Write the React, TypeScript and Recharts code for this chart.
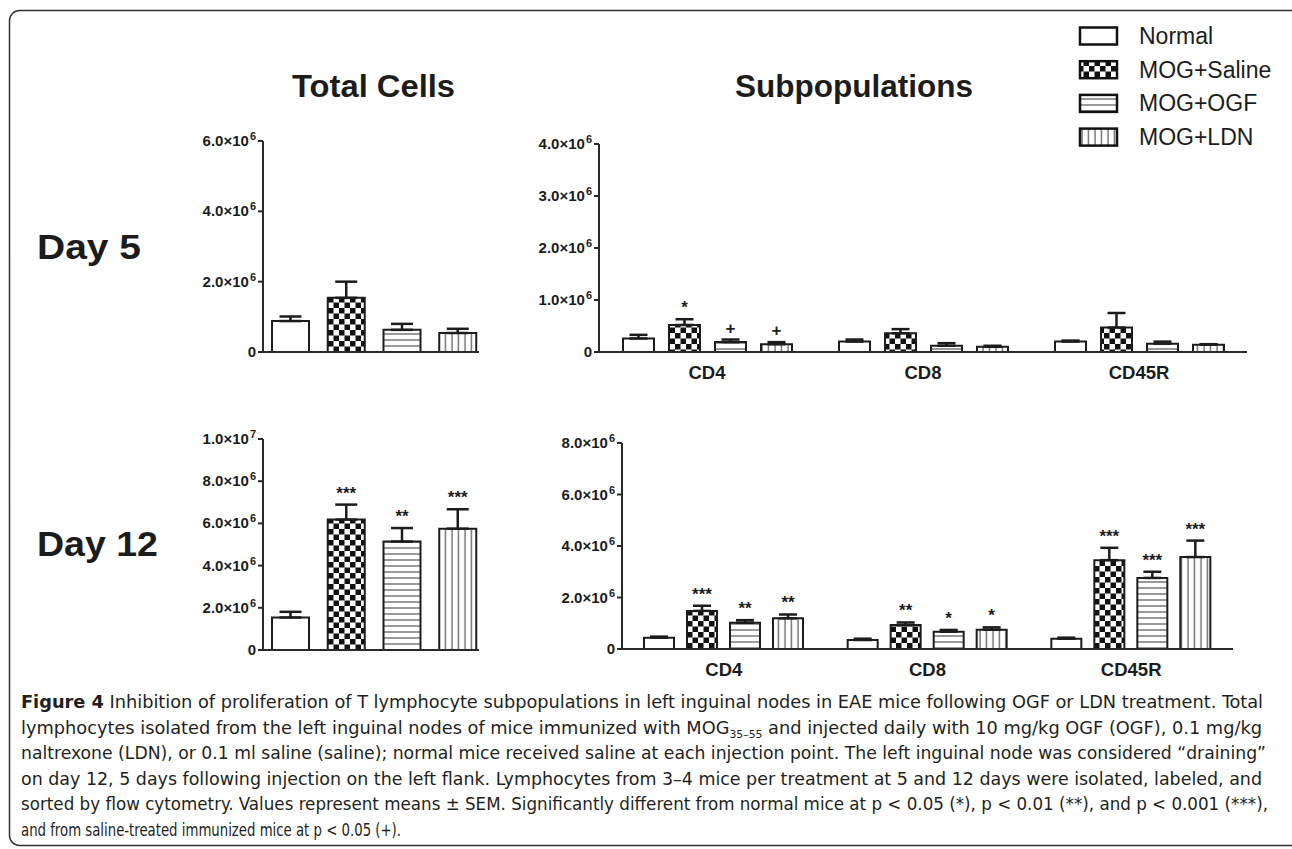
import React from 'react';
import { BarChart, Bar, XAxis, YAxis, Cell, ErrorBar, LabelList } from 'recharts';

// treatment groups (legend order) and lymphocyte subsets
const groups = ['Normal', 'MOG+Saline', 'MOG+OGF', 'MOG+LDN'];
const subsets = ['CD4', 'CD8', 'CD45R'];

// Total cells, one value per group
const day5Total = [0.88e6, 1.54e6, 0.63e6, 0.54e6];
const day5TotalSem = [0.13e6, 0.46e6, 0.17e6, 0.12e6];
const day5TotalSig = ['', '', '', ''];

const day12Total = [1.54e6, 6.18e6, 5.14e6, 5.75e6];
const day12TotalSem = [0.27e6, 0.71e6, 0.64e6, 0.92e6];
const day12TotalSig = ['', '***', '**', '***'];

// Subpopulations, one array per group, ordered CD4, CD8, CD45R
const day5Normal = [0.26e6, 0.2e6, 0.2e6];
const day5NormalSem = [0.07e6, 0.04e6, 0.02e6];
const day5Saline = [0.52e6, 0.36e6, 0.47e6];
const day5SalineSem = [0.11e6, 0.08e6, 0.28e6];
const day5Ogf = [0.19e6, 0.12e6, 0.16e6];
const day5OgfSem = [0.05e6, 0.05e6, 0.04e6];
const day5Ldn = [0.15e6, 0.1e6, 0.14e6];
const day5LdnSem = [0.04e6, 0.02e6, 0.01e6];
const day5Sig = [['', '', ''], ['*', '', ''], ['+', '', ''], ['+', '', '']];

const day12Normal = [0.44e6, 0.35e6, 0.4e6];
const day12NormalSem = [0.04e6, 0.05e6, 0.04e6];
const day12Saline = [1.48e6, 0.93e6, 3.45e6];
const day12SalineSem = [0.2e6, 0.1e6, 0.48e6];
const day12Ogf = [1.02e6, 0.67e6, 2.76e6];
const day12OgfSem = [0.1e6, 0.07e6, 0.24e6];
const day12Ldn = [1.19e6, 0.75e6, 3.57e6];
const day12LdnSem = [0.15e6, 0.09e6, 0.64e6];
const day12Sig = [['', '', ''], ['***', '**', '***'], ['**', '*', '***'], ['**', '*', '***']];

// y ticks
const day5TotalTicks = [0, 2e6, 4e6, 6e6];
const day12TotalTicks = [0, 2e6, 4e6, 6e6, 8e6, 1e7];
const day5SubTicks = [0, 1e6, 2e6, 3e6, 4e6];
const day12SubTicks = [0, 2e6, 4e6, 6e6, 8e6];

const fills = ['#ffffff', 'url(#pat-chk)', 'url(#pat-hz)', 'url(#pat-vt)'];
const INK = '#1c1c1c';
const FONT = '"Liberation Sans", Arial, Helvetica, sans-serif';

const captionLines = [
  [{ t: 'Figure 4', b: true }, { t: ' Inhibition of proliferation of T lymphocyte subpopulations in left inguinal nodes in EAE mice following OGF or LDN treatment. Total' }],
  [{ t: 'lymphocytes isolated from the left inguinal nodes of mice immunized with MOG' }, { t: '35–55', sub: true }, { t: ' and injected daily with 10 mg/kg OGF (OGF), 0.1 mg/kg' }],
  [{ t: 'naltrexone (LDN), or 0.1 ml saline (saline); normal mice received saline at each injection point. The left inguinal node was considered “draining”' }],
  [{ t: 'on day 12, 5 days following injection on the left flank. Lymphocytes from 3–4 mice per treatment at 5 and 12 days were isolated, labeled, and' }],
  [{ t: 'sorted by flow cytometry. Values represent means ± SEM. Significantly different from normal mice at p < 0.05 (*), p < 0.01 (**), and p < 0.001 (***),' }],
  [{ t: 'and from saline-treated immunized mice at p < 0.05 (+).' }],
];
const captionEnds = [1263, 1262, 1266, 1262, 1268, 401];

const totalRows = (vals: number[], sem: number[], sig: string[]) =>
  groups.map((g, i) => ({ group: g, value: vals[i], err: [0, sem[i]], sem: sem[i], sig: sig[i] }));

const subRows = (vals: number[][], sem: number[][], sig: string[][]) =>
  subsets.map((s, j) => {
    const row: any = { subset: s };
    groups.forEach((_, i) => {
      row[`v${i}`] = vals[i][j];
      row[`e${i}`] = [0, sem[i][j]];
      row[`s${i}`] = sem[i][j];
      row[`g${i}`] = sig[i][j];
    });
    return row;
  });

const day5TotalData = totalRows(day5Total, day5TotalSem, day5TotalSig);
const day12TotalData = totalRows(day12Total, day12TotalSem, day12TotalSig);
const day5SubData = subRows(
  [day5Normal, day5Saline, day5Ogf, day5Ldn],
  [day5NormalSem, day5SalineSem, day5OgfSem, day5LdnSem],
  day5Sig,
);
const day12SubData = subRows(
  [day12Normal, day12Saline, day12Ogf, day12Ldn],
  [day12NormalSem, day12SalineSem, day12OgfSem, day12LdnSem],
  day12Sig,
);

const YTick = (props: any) => {
  const { x, y, payload } = props;
  const v = payload.value;
  const common = { x, y, dy: 5, textAnchor: 'end' as const, fontFamily: FONT, fontWeight: 700, fontSize: 15, fill: INK };
  if (v === 0) return <text {...common}>0</text>;
  const e = Math.floor(Math.log10(v) + 1e-9);
  const m = (v / Math.pow(10, e)).toFixed(1);
  return (
    <text {...common}>
      {m}×10<tspan dy={-6} dx={1} fontSize={11}>{e}</tspan>
    </text>
  );
};

const XTick = (props: any) => {
  const { x, y, payload } = props;
  return (
    <text x={x} y={y} dy={19} textAnchor="middle" fontFamily={FONT} fontWeight={700} fontSize={18.5} fill={INK}>
      {payload.value}
    </text>
  );
};

// star / plus marks placed above the top of each error bar
const sigLabel = (values: (i: number) => number, sems: (i: number) => number) => (props: any) => {
  const vb = props.viewBox || {};
  const x = props.x ?? vb.x;
  const y = props.y ?? vb.y;
  const w = props.width ?? vb.width;
  const h = props.height ?? vb.height;
  const idx = props.index;
  if (!props.value || idx == null) return null;
  const v = values(idx);
  const errTop = y - (h * sems(idx)) / v;
  return (
    <text x={x + w / 2} y={errTop - 6} textAnchor="middle" fontFamily={FONT} fontWeight={700} fontSize={17} fill={INK}>
      {props.value}
    </text>
  );
};

const axisStyle = { stroke: '#2a2a2a', strokeWidth: 2 };

const TotalChart = ({ data, ticks, top }: { data: any[]; ticks: number[]; top: number }) => (
  <div style={{ position: 'absolute', left: 163, top, width: 326, height: 241 }}>
    <BarChart width={326} height={241} data={data} margin={{ top: 20, right: 10, bottom: 0, left: 0 }}>
      <XAxis dataKey="group" tick={false} tickLine={false} axisLine={axisStyle} height={10} padding={{ left: 0, right: -7 }} />
      <YAxis
        domain={[0, ticks[ticks.length - 1]]}
        ticks={ticks}
        interval={0}
        width={100}
        tickSize={5}
        tickLine={axisStyle}
        axisLine={axisStyle}
        tick={<YTick />}
      />
      <Bar dataKey="value" barSize={37} stroke={INK} strokeWidth={2} isAnimationActive={false}>
        {data.map((_, i) => (
          <Cell key={i} fill={fills[i]} />
        ))}
        <ErrorBar dataKey="err" direction="y" width={11} stroke={INK} strokeWidth={2.5} isAnimationActive={false} />
        <LabelList dataKey="sig" content={sigLabel((i) => data[i].value, (i) => data[i].sem)} />
      </Bar>
    </BarChart>
  </div>
);

const SubChart = ({
  data, ticks, left, top, plotW, plotH, barSize, barGap,
}: { data: any[]; ticks: number[]; left: number; top: number; plotW: number; plotH: number; barSize: number; barGap: number }) => {
  const w = 100 + plotW + 10;
  const h = 20 + plotH + 40;
  return (
    <div style={{ position: 'absolute', left, top, width: w, height: h }}>
      <BarChart width={w} height={h} data={data} margin={{ top: 20, right: 10, bottom: 0, left: 0 }} barGap={barGap}>
        <XAxis dataKey="subset" tickLine={false} axisLine={axisStyle} height={40} tick={<XTick />} interval={0} />
        <YAxis
          domain={[0, ticks[ticks.length - 1]]}
          ticks={ticks}
          interval={0}
          width={100}
          tickSize={5}
          tickLine={axisStyle}
          axisLine={axisStyle}
          tick={<YTick />}
        />
        {groups.map((g, i) => (
          <Bar key={g} dataKey={`v${i}`} name={g} barSize={barSize} fill={fills[i]} stroke={INK} strokeWidth={2} isAnimationActive={false}>
            <ErrorBar dataKey={`e${i}`} direction="y" width={9} stroke={INK} strokeWidth={2.5} isAnimationActive={false} />
            <LabelList dataKey={`g${i}`} content={sigLabel((j) => data[j][`v${i}`], (j) => data[j][`s${i}`])} />
          </Bar>
        ))}
      </BarChart>
    </div>
  );
};

const Overlay = () => (
  <svg width={1292} height={849} style={{ position: 'absolute', left: 0, top: 0 }}>
    <defs>
      <pattern id="pat-chk" width="11" height="11" patternUnits="userSpaceOnUse">
        <rect width="11" height="11" fill="#fff" />
        <rect width="5.5" height="5.5" fill="#111" />
        <rect x="5.5" y="5.5" width="5.5" height="5.5" fill="#111" />
      </pattern>
      <pattern id="pat-hz" width="6" height="6" patternUnits="userSpaceOnUse">
        <rect width="6" height="6" fill="#fff" />
        <line x1="0" y1="3" x2="6" y2="3" stroke="#555" strokeWidth="1.2" />
      </pattern>
      <pattern id="pat-vt" width="6.5" height="6" patternUnits="userSpaceOnUse">
        <rect width="6.5" height="6" fill="#fff" />
        <line x1="3" y1="0" x2="3" y2="6" stroke="#555" strokeWidth="1.2" />
      </pattern>
    </defs>
    <rect x={9.5} y={10.5} width={1310} height={835} rx={10} fill="none" stroke="#333" strokeWidth={1.5} />

    <text x={292} y={97} fontFamily={FONT} fontWeight={700} fontSize={32} fill={INK} textLength={163} lengthAdjust="spacingAndGlyphs">Total Cells</text>
    <text x={735} y={97} fontFamily={FONT} fontWeight={700} fontSize={31.5} fill={INK} textLength={238} lengthAdjust="spacingAndGlyphs">Subpopulations</text>
    <text x={37} y={259} fontFamily={FONT} fontWeight={700} fontSize={35} fill={INK} textLength={104} lengthAdjust="spacingAndGlyphs">Day 5</text>
    <text x={37} y={556} fontFamily={FONT} fontWeight={700} fontSize={35} fill={INK} textLength={121} lengthAdjust="spacingAndGlyphs">Day 12</text>

    {groups.map((g, i) => {
      const cy = 36 + i * 33.7;
      return (
        <g key={g}>
          <rect x={1080} y={cy - 8.5} width={37} height={17} fill={fills[i]} stroke="#111" strokeWidth={2.5} />
          <text x={1139} y={cy} dy={8} fontFamily={FONT} fontSize={23} fill={INK}>{g}</text>
        </g>
      );
    })}

    {captionLines.map((line, li) => (
      <text
        key={li}
        x={21}
        y={708 + li * 25.6}
        fontFamily='"DejaVu Sans Condensed", "Liberation Sans Narrow", "Liberation Sans", sans-serif'
        fontSize={18}
        fill="#231f20"
        textLength={captionEnds[li] - 21}
        lengthAdjust="spacingAndGlyphs"
      >
        {line.map((s: any, si) =>
          s.sub ? (
            <tspan key={si} fontSize={11} dy={4}>{s.t}</tspan>
          ) : (
            <tspan key={si} fontWeight={s.b ? 700 : 400} dy={si > 0 && line[si - 1] && (line[si - 1] as any).sub ? -4 : 0}>{s.t}</tspan>
          ),
        )}
      </text>
    ))}
  </svg>
);

const App: React.FC = () => (
  <div style={{ position: 'absolute', left: 0, top: 0, width: 1292, height: 849, background: '#fff', overflow: 'hidden' }}>
    <Overlay />
    <TotalChart data={day5TotalData} ticks={day5TotalTicks} top={121} />
    <TotalChart data={day12TotalData} ticks={day12TotalTicks} top={419} />
    <SubChart data={day5SubData} ticks={day5SubTicks} left={499} top={124} plotW={648} plotH={208} barSize={31} barGap={15} />
    <SubChart data={day12SubData} ticks={day12SubTicks} left={522} top={423} plotW={611} plotH={206} barSize={30} barGap={13} />
  </div>
);

export default App;
